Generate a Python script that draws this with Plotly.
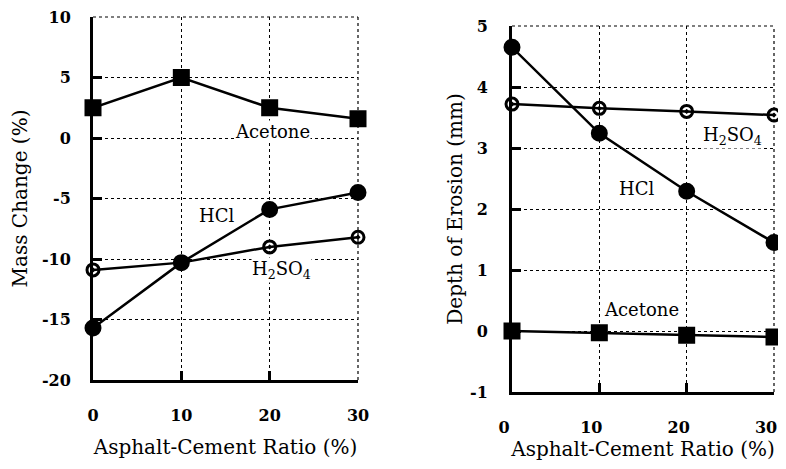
import plotly.graph_objects as go

ratio = [0, 10, 20, 30]

# Left panel: mass change (%)
mass_acetone = [2.5, 5.0, 2.5, 1.6]
mass_hcl = [-15.7, -10.3, -5.9, -4.5]
mass_h2so4 = [-10.9, -10.3, -9.0, -8.2]

# Right panel: depth of erosion (mm)
erosion_hcl = [4.65, 3.24, 2.29, 1.45]
erosion_h2so4 = [3.72, 3.65, 3.60, 3.54]
erosion_acetone = [0.0, -0.03, -0.07, -0.10]

x_ticks = [0, 10, 20, 30]
x_tick_labels = ["0", "10", "20", "30"]
mass_ticks = [-20, -15, -10, -5, 0, 5, 10]
mass_tick_labels = ["-20", "-15", "-10", "-5", "0", "5", "10"]
erosion_ticks = [-1, 0, 1, 2, 3, 4, 5]
erosion_tick_labels = ["-1", "0", "1", "2", "3", "4", "5"]

FONT = "DejaVu Serif"

fig = go.Figure()

def add_series(x, y, symbol, xa, ya):
    fig.add_trace(go.Scatter(
        x=x, y=y, mode="lines+markers", xaxis=xa, yaxis=ya,
        line=dict(color="black", width=2.5),
        marker=dict(symbol=symbol, size=14 if "open" not in symbol else 12,
                    color="black", line=dict(color="black", width=3)),
        cliponaxis=False, showlegend=False))

add_series(ratio, mass_acetone, "square", "x", "y")
add_series(ratio, mass_hcl, "circle", "x", "y")
add_series(ratio, mass_h2so4, "circle-open-dot", "x", "y")
add_series(ratio, erosion_hcl, "circle", "x2", "y2")
add_series(ratio, erosion_h2so4, "circle-open-dot", "x2", "y2")
add_series(ratio, erosion_acetone, "square", "x2", "y2")

# page body has an 8px margin: the figure is sized to fit the window exactly
OFF = 8
W, H = 786 - 2 * OFF, 469 - 2 * OFF
tickfont = dict(family=FONT, size=16, color="black", weight="bold")
titlefont = dict(family=FONT, size=20, color="black")

def px_x(a, b):
    return [(a - OFF) / W, (b - OFF) / W]

def px_y(top, bottom):
    return [(H - (bottom - OFF)) / H, (H - (top - OFF)) / H]

def xaxis(domain, anchor, standoff, title_standoff, shift):
    return dict(domain=domain, anchor=anchor, range=[0, 30], tickvals=x_ticks,
                ticktext=x_tick_labels, showgrid=True, gridcolor="black",
                griddash="dot", gridwidth=1, zeroline=False, showline=True,
                linecolor="black", linewidth=3, ticks="inside", ticklen=9,
                tickwidth=3, tickcolor="black", tickfont=tickfont,
                ticklabelstandoff=standoff, ticklabelshift=shift,
                ticklabeloverflow="allow", automargin=False,
                title=dict(text="Asphalt-Cement Ratio (%)", font=titlefont,
                           standoff=title_standoff))

def yaxis(domain, anchor, rng, vals, labels, title, standoff, title_standoff):
    return dict(domain=domain, anchor=anchor, range=rng, tickvals=vals,
                ticktext=labels, showgrid=True, gridcolor="black", griddash="dot",
                gridwidth=1, zeroline=False, showline=True, linecolor="black",
                linewidth=3, ticks="inside", ticklen=9, tickwidth=3,
                tickcolor="black", tickfont=tickfont, ticklabelstandoff=standoff,
                ticklabeloverflow="allow", automargin=False,
                title=dict(text=title, font=titlefont, standoff=title_standoff))

fig.update_layout(
    width=W, height=H, margin=dict(l=0, r=0, t=0, b=0, autoexpand=False),
    paper_bgcolor="white", plot_bgcolor="white",
    xaxis=xaxis(px_x(93, 358), "y", 19, 16, 0),
    yaxis=yaxis(px_y(17, 380), "x", [-20, 10], mass_ticks,
                mass_tick_labels, "Mass Change (%)", 16, 20),
    xaxis2=xaxis(px_x(512, 774), "y2", 19, 18, -8),
    yaxis2=yaxis(px_y(26, 392), "x2", [-1, 5], erosion_ticks,
                 erosion_tick_labels, "Depth of Erosion (mm)", 18, 3),
)

# dotted top and right borders
for xr, yr in (("x", "y"), ("x2", "y2")):
    fig.add_shape(type="line", xref=f"{xr} domain", yref=f"{yr} domain",
                  x0=0, x1=1, y0=1, y1=1, line=dict(color="black", width=1.2, dash="dot"))
    fig.add_shape(type="line", xref=f"{xr} domain", yref=f"{yr} domain",
                  x0=1, x1=1, y0=0, y1=1, line=dict(color="black", width=1.2, dash="dot"))

labels = [
    ("Acetone", 20.3, 0.5, "x", "y"),
    ("HCl", 14.0, -6.4, "x", "y"),
    ("H<sub>2</sub>SO<sub>4</sub>", 21.3, -10.9, "x", "y"),
    ("H<sub>2</sub>SO<sub>4</sub>", 25.2, 3.2, "x2", "y2"),
    ("HCl", 14.25, 2.34, "x2", "y2"),
    ("Acetone", 14.8, 0.35, "x2", "y2"),
]
for text, x, y, xr, yr in labels:
    fig.add_annotation(x=x, y=y, xref=xr, yref=yr, text=text, showarrow=False,
                       bgcolor="white", borderpad=0,
                       font=dict(family=FONT, size=18, color="black"))

fig.write_html("out.html")
